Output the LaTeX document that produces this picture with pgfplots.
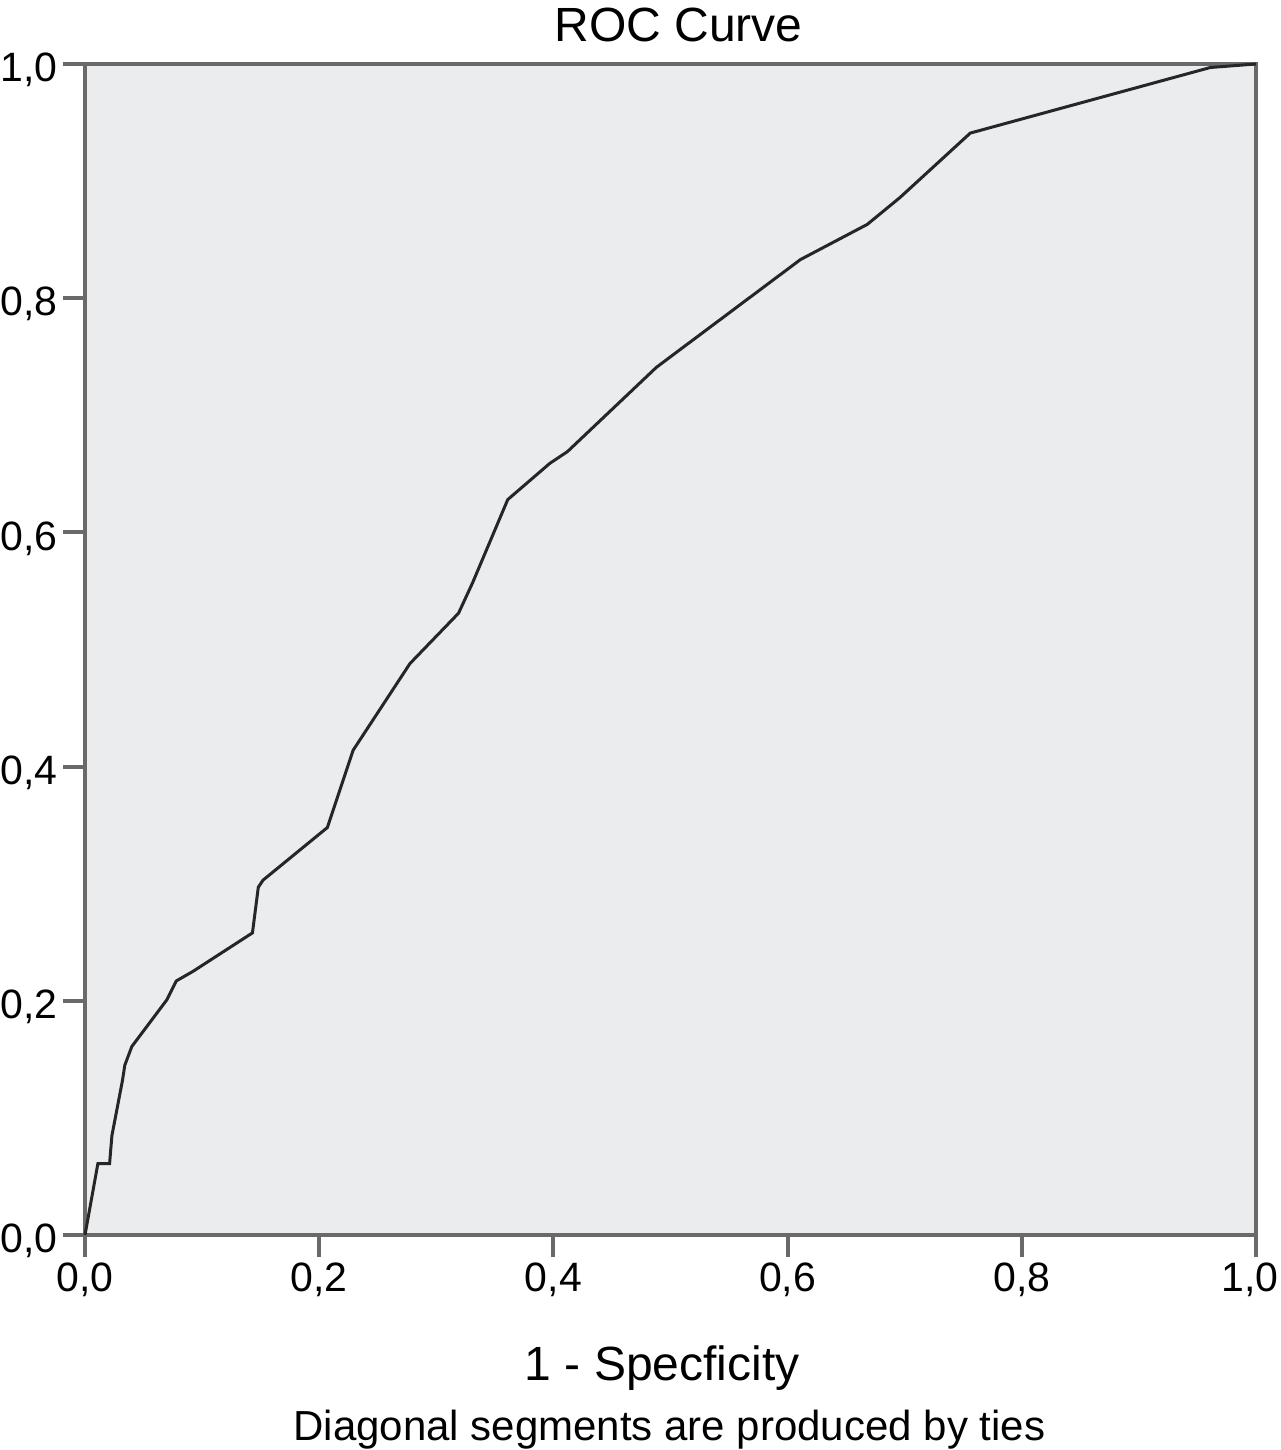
\documentclass[border=0pt]{standalone}
\usepackage{fontspec}
\setmainfont{Liberation Sans}
\usepackage{pgfplots}
\pgfplotsset{compat=1.18}
\definecolor{bgc}{RGB}{235,236,238}
\definecolor{axc}{RGB}{105,105,105}
\definecolor{lnc}{RGB}{38,38,38}
\begin{document}
\begin{tikzpicture}
\useasboundingbox (-42.5bp,-107.5bp) rectangle (598bp,617.5bp);
\begin{axis}[
  scale only axis, width=585.5bp, height=585.5bp,
  xmin=0, xmax=1, ymin=0, ymax=1,
  axis background/.style={fill=bgc},
  axis line style={draw=axc, line width=2bp},
  every tick/.style={draw=axc, line width=2bp},
  tick align=outside, major tick length=11bp,
  xtick pos=left, ytick pos=left,
  xtick={0,0.2,0.4,0.6,0.8,1},
  ytick={0,0.2,0.4,0.6,0.8,1},
  xticklabels={{0,0},{0,2},{0,4},{0,6},{0,8},{\hspace*{-6bp}1,0}},
  yticklabels={{0,0},{0,2},{0,4},{0,6},{0,8},{1,0}},
  ticklabel style={font=\fontsize{20.5bp}{24bp}\selectfont, inner sep=0pt},
  xticklabel style={yshift=-2.5bp},
  yticklabel style={xshift=-2.5bp, yshift=-3bp},
  clip=false,
]
\addplot[lnc, line width=1.5bp] coordinates {
(0,0) (0.011,0.061) (0.021,0.061) (0.023,0.085) (0.032,0.132) (0.034,0.145)
(0.040,0.161) (0.070,0.201) (0.078,0.217) (0.092,0.225) (0.143,0.258)
(0.148,0.297) (0.152,0.303) (0.207,0.348) (0.220,0.387) (0.229,0.414)
(0.2775,0.488) (0.319,0.531) (0.331,0.557) (0.361,0.628) (0.397,0.659)
(0.412,0.669) (0.488,0.741) (0.611,0.833) (0.668,0.863) (0.696,0.886)
(0.756,0.941) (0.961,0.997) (1,1)
};
\node[anchor=base, yshift=11bp, font=\fontsize{24bp}{28bp}\selectfont] at (rel axis cs:0.507,1) {ROC Curve};
\node[anchor=base, yshift=-72.5bp, font=\fontsize{24bp}{28bp}\selectfont] at (rel axis cs:0.493,0) {1 - Specficity};
\node[anchor=base, yshift=-102.5bp, font=\fontsize{21bp}{24bp}\selectfont] at (rel axis cs:0.499,0) {Diagonal segments are produced by ties};
\end{axis}
\end{tikzpicture}
\end{document}
